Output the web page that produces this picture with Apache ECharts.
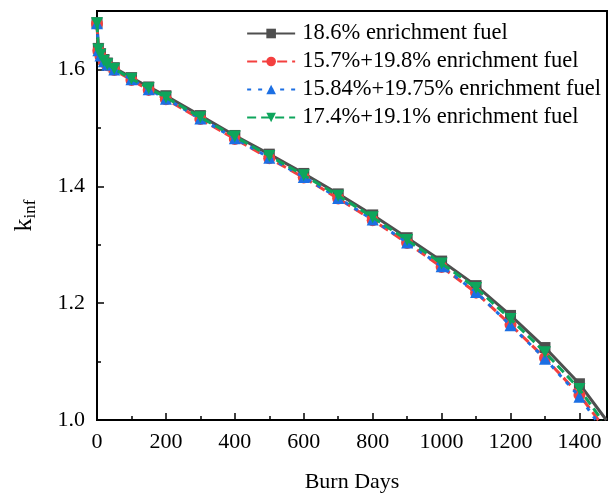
<!DOCTYPE html>
<html><head><meta charset="utf-8">
<script src="https://cdn.jsdelivr.net/npm/echarts@6/dist/echarts.min.js"></script>
<style>html,body{margin:0;padding:0;background:#fff}#c{width:609px;height:493px}</style>
</head><body><div id="c"></div>
<script>
var seriesNames = ['18.6% enrichment fuel','15.7%+19.8% enrichment fuel','15.84%+19.75% enrichment fuel','17.4%+19.1% enrichment fuel'];
var days = [0, 4, 10, 20, 30, 50, 100, 150, 200, 300, 400, 500, 600, 700, 800, 900, 1000, 1100, 1200, 1300, 1400];
var kGray  = [1.680, 1.636, 1.627, 1.617, 1.611, 1.603, 1.586, 1.570, 1.555, 1.521, 1.487, 1.455, 1.422, 1.387, 1.351, 1.312, 1.272, 1.230, 1.179, 1.124, 1.062];
var kRed   = [1.678, 1.632, 1.623, 1.613, 1.607, 1.599, 1.582, 1.565, 1.549, 1.515, 1.481, 1.448, 1.415, 1.379, 1.342, 1.303, 1.262, 1.218, 1.163, 1.106, 1.043];
var kBlue  = [1.679, 1.633, 1.624, 1.614, 1.608, 1.600, 1.583, 1.566, 1.550, 1.516, 1.482, 1.449, 1.416, 1.380, 1.343, 1.304, 1.263, 1.219, 1.162, 1.105, 1.040];
var kGreen = [1.679, 1.634, 1.625, 1.615, 1.609, 1.601, 1.584, 1.568, 1.552, 1.518, 1.485, 1.452, 1.419, 1.384, 1.347, 1.308, 1.268, 1.226, 1.173, 1.116, 1.053];
var endDays = [1478, 1455, 1448, 1465];
var endK = [1.0, 1.0, 1.0, 1.0];

var colors = ['#4f4f4f', '#f4403f', '#1c6fe3', '#0ea55c'];
var symbols = ['rect', 'circle', 'triangle', 'path://M0,0 L10,0 L5,9 Z'];
var dashes = ['solid', [10, 5], [4, 7], [9, 5]];
var allK = [kGray, kRed, kBlue, kGreen];

function build(i) {
  var d = days.map(function (x, j) { return [x, allK[i][j]]; });
  d.push({ value: [endDays[i], endK[i]], symbol: 'none' });
  return {
    name: seriesNames[i], type: 'line', data: d, z: 2 + i,
    symbol: symbols[i], symbolSize: i === 0 ? 11 : 12,
    lineStyle: { color: colors[i], width: 3, type: dashes[i] },
    itemStyle: { color: colors[i] },
    smooth: false
  };
}
var serif = 'Liberation Serif';
var chart = echarts.init(document.getElementById('c'));
chart.setOption({
  animation: false,
  color: colors,
  grid: { left: 97, right: 2, top: 11, bottom: 73, show: true, borderColor: '#000', borderWidth: 2,
    containLabel: false, outerBoundsMode: 'none' },
  legend: {
    data: seriesNames, orient: 'vertical', right: 3, top: 17, itemGap: 5,
    itemWidth: 48, itemHeight: 12,
    textStyle: { fontFamily: serif, fontSize: 22.5, color: '#000', padding: [0, 0, 0, 2] }
  },
  xAxis: {
    type: 'value', min: 0, max: 1480, interval: 200,
    name: 'Burn Days', nameLocation: 'middle', nameGap: 51,
    nameTextStyle: { fontFamily: serif, fontSize: 22, color: '#000' },
    axisLine: { lineStyle: { color: '#000', width: 2 } },
    axisTick: { inside: true, length: 7, lineStyle: { color: '#000', width: 1.5 } },
    minorTick: { show: true, splitNumber: 2, length: 4, lineStyle: { color: '#000', width: 1.5 } },
    axisLabel: { fontFamily: serif, fontSize: 22, color: '#000', margin: 11, showMaxLabel: false,
      formatter: function (v) { return String(v); } },
    splitLine: { show: false }
  },
  yAxis: {
    type: 'value', min: 1.0, max: 1.7, interval: 0.2,
    name: '{k|k}{s|inf}', nameLocation: 'middle', nameGap: 58, nameRotate: 90,
    nameTextStyle: { fontFamily: serif, fontSize: 22, color: '#000',
      rich: { k: { fontFamily: serif, fontSize: 26, color: '#000' }, s: { fontFamily: serif, fontSize: 17, color: '#000', padding: [12, 0, 0, 0] } } },
    axisLine: { lineStyle: { color: '#000', width: 2 } },
    axisTick: { inside: true, length: 7, lineStyle: { color: '#000', width: 1.5 } },
    minorTick: { show: true, splitNumber: 2, length: 4, lineStyle: { color: '#000', width: 1.5 } },
    axisLabel: { fontFamily: serif, fontSize: 22, color: '#000', margin: 12, showMaxLabel: false,
      formatter: function (v) { return v.toFixed(1); } },
    splitLine: { show: false }
  },
  series: [build(0), build(1), build(2), build(3)]
});
</script></body></html>
